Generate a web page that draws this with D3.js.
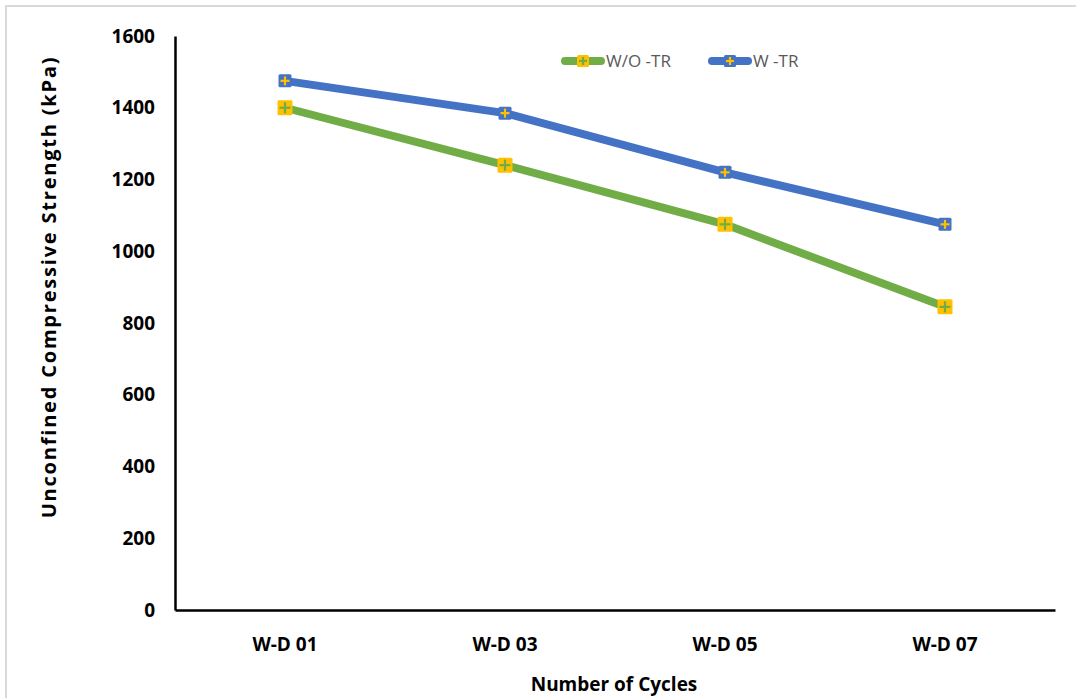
<!DOCTYPE html>
<html>
<head>
<meta charset="utf-8">
<script src="https://cdn.jsdelivr.net/npm/d3@7"></script>
<style>
body { margin: 0; background: #fff; }
svg { display: block; }
</style>
</head>
<body>
<div id="chart"></div>
<script>
// data
var cycles = ["W-D 01", "W-D 03", "W-D 05", "W-D 07"];
var withoutTR = [1400, 1240, 1075, 845];
var withTR = [1475, 1385, 1220, 1075];
var yTicks = [0, 200, 400, 600, 800, 1000, 1200, 1400, 1600];
var seriesNames = ["W/O -TR", "W -TR"];

var W = 1076, H = 698;

var svg = d3.select("#chart").append("svg")
  .attr("width", W).attr("height", H);

// light frame
svg.append("line").attr("x1", 5).attr("x2", W).attr("y1", 6).attr("y2", 6)
  .attr("stroke", "#d9d9d9").attr("stroke-width", 2);
svg.append("line").attr("x1", 6).attr("x2", 6).attr("y1", 5).attr("y2", H)
  .attr("stroke", "#d9d9d9").attr("stroke-width", 2);

var x = d3.scaleBand().domain(cycles).range([175, 1055]);
var y = d3.scaleLinear().domain([0, 1600]).range([610, 36]);

var tickFont = "'Open Sans', 'Liberation Sans', sans-serif";

// y axis
var gy = svg.append("g").attr("transform", "translate(175,0)")
  .call(d3.axisLeft(y).tickValues(yTicks).tickFormat(d3.format("d")).tickSize(0).tickPadding(20));
gy.select(".domain").attr("stroke", "#000").attr("stroke-width", 2.5);
gy.selectAll("text").attr("font-family", tickFont).attr("font-size", 19)
  .attr("font-weight", "bold").attr("fill", "#000");

// x axis
var gx = svg.append("g").attr("transform", "translate(0,610)")
  .call(d3.axisBottom(x).tickSize(0).tickPadding(28));
gx.select(".domain").attr("stroke", "#000").attr("stroke-width", 2.5);
gx.selectAll("text").attr("font-family", tickFont).attr("font-size", 19)
  .attr("font-weight", "bold").attr("fill", "#000");

// axis titles
svg.append("text").attr("x", 614).attr("y", 691)
  .attr("text-anchor", "middle").attr("font-family", tickFont)
  .attr("font-size", 19).attr("font-weight", "bold").text("Number of Cycles");
svg.append("text").attr("transform", "translate(56,287)rotate(-90)")
  .attr("text-anchor", "middle").attr("font-family", tickFont)
  .attr("font-size", 20).attr("font-weight", "bold").attr("letter-spacing", 1.8)
  .text("Unconfined Compressive Strength (kPa)");

var line = d3.line()
  .x(function(d, i) { return x(cycles[i]) + x.bandwidth() / 2; })
  .y(function(d) { return y(d); });

var series = [
  {name: seriesNames[0], values: withoutTR, color: "#70ad47", box: "#ffc000", cross: "#70ad47", size: 15},
  {name: seriesNames[1], values: withTR, color: "#4472c4", box: "#4472c4", cross: "#ffc000", size: 13}
];

function marker(g, cx, cy, s) {
  var h = s.size / 2;
  g.append("rect").attr("x", cx - h).attr("y", cy - h)
    .attr("width", s.size).attr("height", s.size).attr("rx", 1.5)
    .attr("fill", s.box);
  g.append("line").attr("x1", cx - h + 2).attr("x2", cx + h - 2)
    .attr("y1", cy).attr("y2", cy).attr("stroke", s.cross).attr("stroke-width", 2.2);
  g.append("line").attr("x1", cx).attr("x2", cx)
    .attr("y1", cy - h + 2).attr("y2", cy + h - 2).attr("stroke", s.cross).attr("stroke-width", 2.2);
}

series.forEach(function(s) {
  svg.append("path").datum(s.values)
    .attr("d", line).attr("fill", "none")
    .attr("stroke", s.color).attr("stroke-width", 8)
    .attr("stroke-linejoin", "round");
  var g = svg.append("g");
  s.values.forEach(function(v, i) {
    marker(g, x(cycles[i]) + x.bandwidth() / 2, y(v), s);
  });
});

// legend
var legX = [565, 712];
series.forEach(function(s, i) {
  var lg = svg.append("g");
  lg.append("line").attr("x1", legX[i]).attr("x2", legX[i] + 36)
    .attr("y1", 61).attr("y2", 61).attr("stroke", s.color)
    .attr("stroke-width", 8).attr("stroke-linecap", "round");
  marker(lg, legX[i] + 18, 61, {size: 12, box: s.box, cross: s.cross});
  lg.append("text").attr("x", legX[i] + 41).attr("y", 67)
    .attr("font-family", "'Liberation Sans Narrow', 'Open Sans', sans-serif")
    .attr("font-size", 17).attr("fill", "#595959").text(s.name);
});
</script>
</body>
</html>
